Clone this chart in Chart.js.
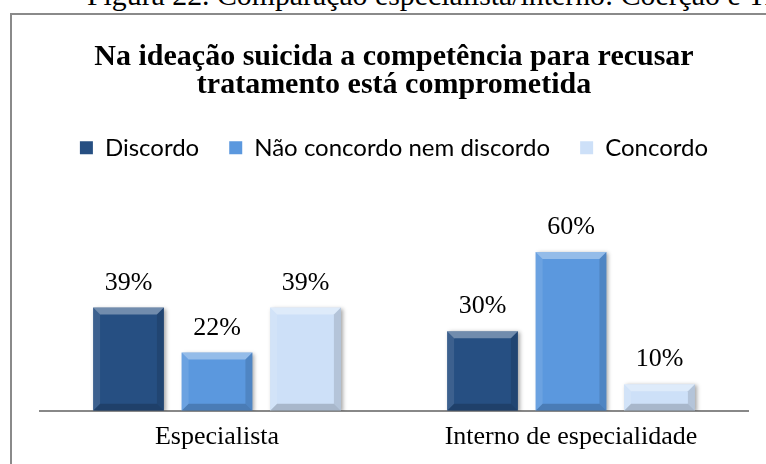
<!DOCTYPE html>
<html>
<head>
<meta charset="utf-8">
<script src="https://cdn.jsdelivr.net/npm/chart.js@4"></script>
<style>
  html, body { margin: 0; padding: 0; width: 766px; height: 464px; overflow: hidden; background: #fff; }
  #caption { position: absolute; left: 87px; top: -20px; font: 29.8px 'Liberation Serif', serif; line-height: 30px; white-space: nowrap; color: #000; }
  #frame { position: absolute; left: 10px; top: 13px; width: 800px; height: 500px; border: 2px solid #8a8a8a; }
  #wrap { position: absolute; left: 0; top: 0; width: 766px; height: 464px; }
</style>
</head>
<body>
<div id="caption">Figura 22. Comparação especialista/interno: Coerção e Tratamento</div>
<div id="frame"></div>
<div id="wrap"><canvas id="chart" width="766" height="464"></canvas></div>
<script>
// Dados do gráfico
const categorias = ['Especialista', 'Interno de especialidade'];
const series = ['Discordo', 'Não concordo nem discordo', 'Concordo'];
const discordo = [39, 30];
const naoConcordo = [22, 60];
const concordo = [39, 10];

const cores = ['#264F82', '#5B98DE', '#CDE0F8'];

// Efeito de bisel e sombra nas barras
const bisel = {
  id: 'bisel',
  beforeDatasetsDraw(chart) {
    const ctx = chart.ctx;
    ctx.save();
    ctx.shadowColor = 'rgba(0,0,0,0.35)';
    ctx.shadowBlur = 4;
    ctx.shadowOffsetX = 2;
    ctx.shadowOffsetY = 1;
  },
  afterDatasetsDraw(chart) {
    const ctx = chart.ctx;
    ctx.restore();
    const b = 7;
    chart.data.datasets.forEach((ds, i) => {
      chart.getDatasetMeta(i).data.forEach(bar => {
        const l = bar.x - bar.width / 2, r = bar.x + bar.width / 2;
        const t = bar.y, bt = bar.base;
        const bb = Math.min(b, (bt - t) / 2);
        const poly = (pts, cor) => {
          ctx.beginPath();
          ctx.moveTo(pts[0][0], pts[0][1]);
          pts.slice(1).forEach(p => ctx.lineTo(p[0], p[1]));
          ctx.closePath();
          ctx.fillStyle = cor;
          ctx.fill();
        };
        poly([[l, t], [r, t], [r - bb, t + bb], [l + bb, t + bb]], 'rgba(255,255,255,0.35)');
        poly([[l, t], [l + bb, t + bb], [l + bb, bt - bb], [l, bt]], 'rgba(255,255,255,0.10)');
        poly([[r, t], [r - bb, t + bb], [r - bb, bt - bb], [r, bt]], 'rgba(0,0,0,0.12)');
        poly([[l, bt], [l + bb, bt - bb], [r - bb, bt - bb], [r, bt]], 'rgba(0,0,0,0.18)');
      });
    });
  }
};

// Rótulos de percentagem acima das barras
const rotulos = {
  id: 'rotulos',
  afterDatasetsDraw(chart) {
    const ctx = chart.ctx;
    ctx.save();
    ctx.font = '26px "Liberation Serif", serif';
    ctx.fillStyle = '#000';
    ctx.textAlign = 'center';
    ctx.textBaseline = 'alphabetic';
    chart.data.datasets.forEach((ds, i) => {
      chart.getDatasetMeta(i).data.forEach((bar, j) => {
        ctx.fillText(ds.data[j] + '%', bar.x, bar.y - 18);
      });
    });
    ctx.restore();
  }
};

const valores = [discordo, naoConcordo, concordo];

new Chart(document.getElementById('chart'), {
  type: 'bar',
  data: {
    labels: categorias,
    datasets: series.map((nome, i) => ({
      label: nome,
      data: valores[i],
      backgroundColor: cores[i],
      borderWidth: 0,
      categoryPercentage: 0.75,
      barPercentage: 0.8
    }))
  },
  options: {
    responsive: false,
    animation: false,
    layout: { padding: { left: 40, right: 18, top: 0, bottom: 0 } },
    plugins: {
      title: {
        display: true,
        text: ['Na ideação suicida a competência para recusar', 'tratamento está comprometida'],
        color: '#000',
        font: { family: '"Liberation Serif", serif', size: 30, weight: 'bold', lineHeight: 0.93 },
        padding: { top: 43, bottom: 7 }
      },
      legend: {
        display: true,
        labels: {
          color: '#000',
          font: { family: 'Lato, sans-serif', size: 24 },
          boxWidth: 13,
          boxHeight: 13,
          padding: 30
        }
      },
      tooltip: { enabled: false }
    },
    scales: {
      x: {
        grid: { display: false, drawTicks: false },
        border: { display: true, color: '#888', width: 2 },
        ticks: { color: '#000', font: { family: '"Liberation Serif", serif', size: 26 }, padding: 11 }
      },
      y: {
        display: false,
        min: 0,
        max: 91
      }
    }
  },
  plugins: [bisel, rotulos]
});
</script>
</body>
</html>
